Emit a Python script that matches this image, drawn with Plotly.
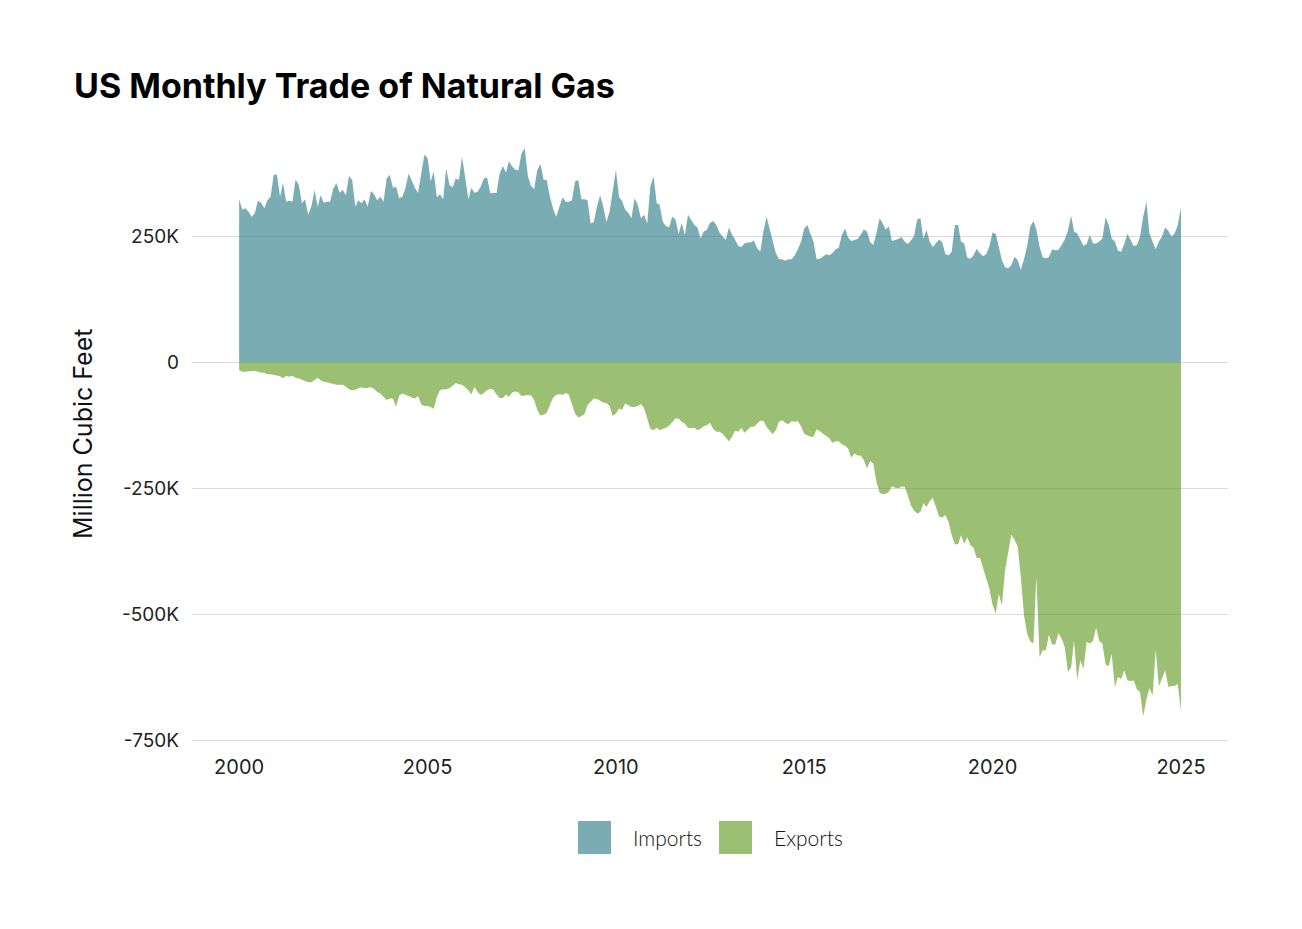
import pandas as pd
import plotly.graph_objects as go

# ---------------- data (thousand million cubic feet, monthly Jan 2000 - Jan 2025) -------------
start_month = "2000-01-01"

imports_k = [
    323, 302, 305, 298, 288, 295, 320, 316, 305, 321,
    328, 371, 372, 328, 356, 318, 320, 318, 362, 351,
    315, 323, 292, 308, 341, 308, 331, 316, 318, 318,
    343, 355, 336, 341, 331, 369, 361, 308, 321, 315,
    323, 308, 339, 333, 321, 328, 318, 364, 371, 345,
    348, 325, 328, 345, 374, 358, 345, 336, 378, 411,
    404, 358, 378, 327, 333, 323, 384, 351, 346, 364,
    361, 407, 366, 323, 345,
    336, 338, 348, 364, 366, 335, 335, 336, 374, 389,
    376, 398, 388, 382, 380, 414, 424, 368, 349, 343,
    381, 393, 361, 361, 328, 305, 288, 308, 327, 318,
    318, 321, 358, 361, 323, 323, 321, 275, 278, 308,
    331, 308, 278, 298, 341, 381, 327, 320, 302, 296,
    285, 325, 312, 285, 292, 275, 348, 368, 315, 312,
    278, 270, 267, 288, 283, 254, 276, 252, 292, 283,
    272, 267, 245, 259, 262,
    276, 280, 272, 257, 249, 242, 267, 252, 243, 230,
    228, 235, 237, 237, 241, 226, 219, 259, 288, 265,
    239, 216, 204, 204, 201, 204, 204, 212, 224, 239,
    265, 272, 255, 239, 204, 205, 209, 214, 212, 216,
    224, 226, 252, 265, 247, 240, 242, 244, 252, 263,
    259, 238, 232, 255, 285, 275, 263, 269, 240, 242,
    244, 248, 239, 234, 241, 250, 283, 285, 245, 262,
    239, 228, 235, 243, 237,
    214, 212, 219, 272, 272, 239, 235, 207, 205, 212,
    225, 216, 210, 214, 229, 257, 254, 229, 202, 188,
    186, 192, 209, 202, 183, 204, 229, 269, 280, 263,
    229, 208, 206, 208, 224, 222, 223, 232, 243, 261,
    290, 259, 255, 243, 230, 234, 252, 235, 235, 239,
    245, 287, 272, 245, 239, 221, 219, 234, 254, 242,
    230, 232, 249, 288, 318, 255, 239, 224, 239, 249,
    267, 260, 249, 255, 272, 307,
]

exports_k = [
    16, 19, 19, 18, 18, 17, 19, 21, 21, 24,
    24, 25, 27, 28, 32, 27, 29, 27, 31, 32,
    35, 37, 40, 40, 36, 31, 36, 39, 40, 42,
    44, 45, 45, 45, 49, 54, 56, 55, 52, 50,
    52, 51, 50, 53, 59, 62, 69, 75, 72, 72,
    89, 66, 62, 64, 67, 70, 72, 67, 84, 87,
    87, 89, 93, 69, 56, 54, 54, 52, 46, 42,
    44, 45, 50, 56, 64,
    49, 59, 65, 61, 56, 53, 55, 64, 71, 71,
    64, 69, 60, 58, 60, 67, 66, 65, 66, 75,
    95, 106, 104, 101, 85, 71, 65, 63, 65, 61,
    64, 84, 102, 110, 107, 104, 85, 79, 72, 73,
    77, 80, 81, 87, 107, 102, 92, 95, 82, 85,
    89, 89, 87, 83, 91, 112, 132, 135, 130, 135,
    133, 130, 126, 118, 112, 112, 118, 122, 130, 131,
    130, 135, 132, 127, 125,
    120, 132, 138, 138, 142, 150, 157, 148, 136, 138,
    130, 140, 134, 128, 128, 123, 116, 116, 128, 136,
    143, 135, 118, 115, 120, 123, 117, 118, 117, 127,
    142, 145, 148, 148, 133, 137, 142, 146, 151, 160,
    157, 157, 163, 166, 171, 189, 181, 185, 185, 194,
    211, 196, 201, 237, 259, 262, 261, 257, 246, 249,
    250, 247, 247, 264, 284, 294, 300, 297, 280, 287,
    276, 269, 287, 306, 308,
    303, 317, 343, 361, 361, 343, 360, 347, 363, 368,
    389, 388, 407, 431, 449, 481, 499, 459, 482, 413,
    380, 342, 352, 366, 426, 502, 538, 554, 558, 425,
    585, 571, 571, 540, 560, 560, 537, 548, 565, 614,
    605, 552, 631, 591, 608, 555, 558, 553, 526, 553,
    558, 599, 603, 578, 644, 624, 628, 611, 631, 632,
    631, 649, 654, 702, 669, 646, 661, 570, 643, 628,
    611, 644, 642, 642, 638, 692,
]

year_ticks = [2000, 2005, 2010, 2015, 2020, 2025]
y_tick_vals = [-750000, -500000, -250000, 0, 250000]
y_tick_text = ["-750K", "-500K", "-250K", "0", "250K"]
series_names = ["Imports", "Exports"]

# ---------------- styling ----------------
OFF = 8                      # page body margin
W, H = 1302 - 2 * OFF, 929 - 2 * OFF
ML, MT = 192 - OFF, 120 - OFF
MR = W - (1228 - OFF)
MB = H - (748 - OFF)
FONT = "Lato"
FONT2 = "Inter"
IMP_COL = "rgba(50,129,138,0.65)"
EXP_COL = "rgba(101,158,41,0.65)"
GRID = "#dadada"

dates = pd.date_range(start_month, periods=len(imports_k), freq="MS")
imports = [v * 1000 for v in imports_k]
exports = [-v * 1000 for v in exports_k]

fig = go.Figure()
fig.add_trace(go.Scatter(x=dates, y=imports, name=series_names[0], mode="lines",
                         fill="tozeroy", fillcolor=IMP_COL,
                         line=dict(width=0, color=IMP_COL), showlegend=False))
fig.add_trace(go.Scatter(x=dates, y=exports, name=series_names[1], mode="lines",
                         fill="tozeroy", fillcolor=EXP_COL,
                         line=dict(width=0, color=EXP_COL), showlegend=False))

pw, ph = W - ML - MR, H - MT - MB


def px_x(p):
    return (p - OFF - ML) / pw


def px_y(p):
    return (H - MB - (p - OFF)) / ph


# manual legend
shapes = []
annotations = []
legend_items = [(578, series_names[0], IMP_COL, 631), (719, series_names[1], EXP_COL, 772)]
for x0, name, col, tx in legend_items:
    shapes.append(dict(type="rect", xref="paper", yref="paper",
                       x0=px_x(x0), x1=px_x(x0 + 33), y0=px_y(854), y1=px_y(821),
                       fillcolor=col, line=dict(width=0)))
    annotations.append(dict(text=name, xref="paper", yref="paper", x=px_x(tx), y=px_y(837),
                            xanchor="left", yanchor="middle", showarrow=False,
                            font=dict(family=FONT, size=21, color="#111111", weight=300)))

annotations.append(dict(text="Million Cubic Feet", xref="paper", yref="paper",
                        x=px_x(83), y=0.5, xanchor="center", yanchor="middle",
                        textangle=-90, showarrow=False,
                        font=dict(family=FONT2, size=25, color="#111111")))

fig.update_layout(
    width=W, height=H,
    margin=dict(l=ML, r=MR, t=MT, b=MB),
    paper_bgcolor="white", plot_bgcolor="white",
    title=dict(text="<b>US Monthly Trade of Natural Gas</b>", xref="container", yref="container",
               x=(74 - OFF) / W, xanchor="left", y=1 - (86 - OFF) / H, yanchor="middle",
               font=dict(family=FONT2, size=34, color="#000000")),
    shapes=shapes, annotations=annotations,
    showlegend=False,
    xaxis=dict(type="date", range=["1998-10-01", "2026-04-02"],
               tickvals=[pd.Timestamp(f"{y}-01-01") for y in year_ticks],
               ticktext=[str(y) for y in year_ticks],
               showgrid=False, zeroline=False, showline=False, ticks="",
               ticklabelstandoff=5,
               tickfont=dict(family=FONT2, size=20, color="#222222")),
    yaxis=dict(range=[-765000, 480000], tickvals=y_tick_vals, ticktext=y_tick_text,
               showgrid=True, gridcolor=GRID, gridwidth=1,
               zeroline=True, zerolinecolor=GRID, zerolinewidth=1,
               showline=False, ticks="", ticklabelstandoff=12,
               tickfont=dict(family=FONT2, size=19, color="#222222")),
)

fig.write_html("out.html")
